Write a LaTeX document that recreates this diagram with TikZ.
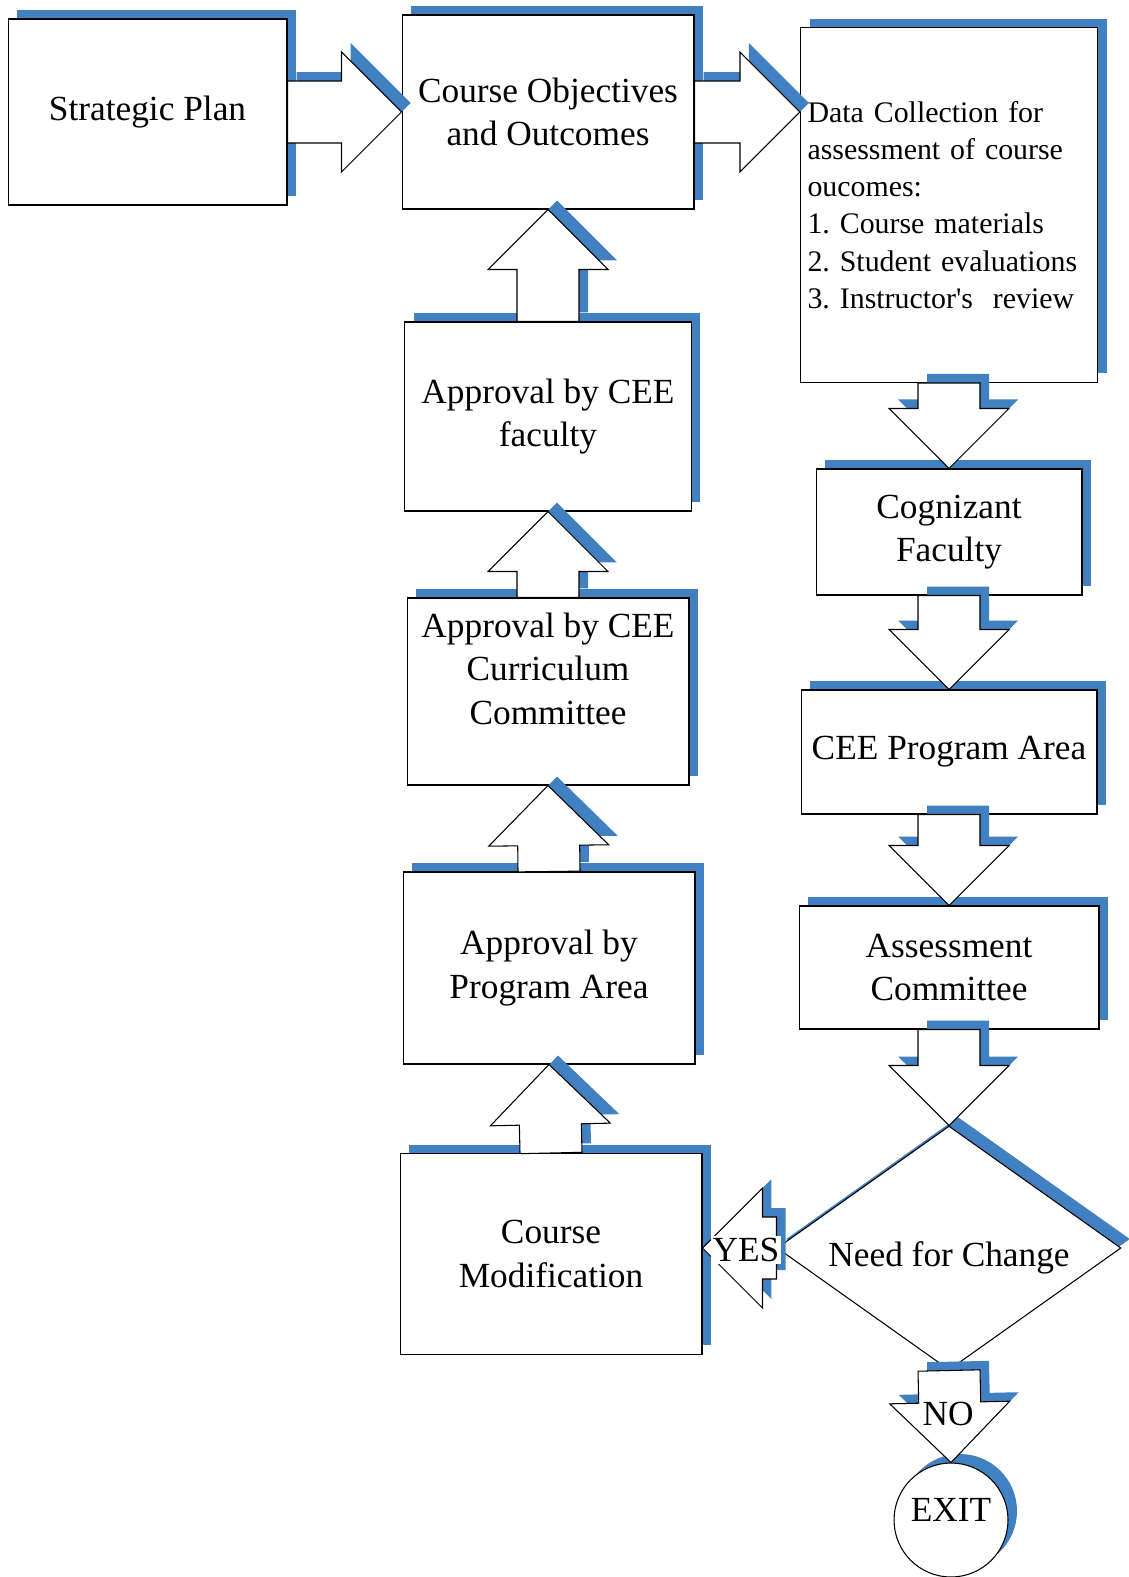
\documentclass[tikz,border=0pt]{standalone}
\usepackage{fontspec}
\setmainfont{Liberation Serif}
\usetikzlibrary{
  shapes.geometric,
  calc,
  shadows,
  positioning
}
\definecolor{shadowblue}{RGB}{65,128,193}
\frenchspacing

\begin{document}
\begin{tikzpicture}[
  x=0.02cm, y=-0.02cm,
  bluedrop/.style={general shadow={shadow xshift=0.18cm, shadow yshift=0.18cm, fill=shadowblue}},
  box/.style={rectangle, draw=black, line width=0.6pt, fill=white, bluedrop, align=center, inner sep=2pt, font=\fontsize{20.1}{24.8}\selectfont},
  decision/.style={diamond, draw=black, line width=0.6pt, fill=white, bluedrop, aspect=1.41, inner sep=0pt, minimum width=6.88cm, minimum height=4.88cm, font=\fontsize{20.1}{24.8}\selectfont},
  endpoint/.style={circle, draw=black, line width=0.6pt, fill=white, bluedrop, inner sep=0pt, minimum size=2.28cm, font=\fontsize{20.1}{24.8}\selectfont},
  answer/.style={fill=white, inner sep=1pt, font=\fontsize{20.1}{24.8}\selectfont},
  blockarrow/.style={draw=black, line width=0.6pt, fill=white, bluedrop, to path={
    let \p1=($(\tikztotarget)!1.2cm!(\tikztostart)$) in
    ($(\tikztostart)!0.62cm!90:(\tikztotarget)$) -- ($(\p1)!0.62cm!90:(\tikztotarget)$)
    -- ($(\p1)!1.2cm!90:(\tikztotarget)$) -- (\tikztotarget)
    -- ($(\p1)!1.2cm!-90:(\tikztotarget)$) -- ($(\p1)!0.62cm!-90:(\tikztotarget)$)
    -- ($(\tikztostart)!0.62cm!-90:(\tikztotarget)$) -- cycle}}
]
\useasboundingbox (0,0) rectangle (1128,1577);

% Top row nodes
\node[box, minimum width=5.58cm, minimum height=3.72cm] (strategic) at (147.5,112) {Strategic Plan};
\node[box, minimum width=5.84cm, minimum height=3.88cm] (objectives) at (548,112) {Course Objectives\\and Outcomes};
\node[box, minimum width=5.94cm, minimum height=7.1cm, text width=5.66cm, align=left, inner xsep=4pt, font=\fontsize{17}{21.2}\selectfont] (data) at (949,205) {Data Collection for\\assessment of course\\oucomes:\\1. Course materials\\2. Student evaluations\\3. Instructor\textquotesingle s\ \ review};

% Left column nodes
\node[box, minimum width=5.74cm, minimum height=3.78cm] (faculty) at (548,416.5) {Approval by CEE\\faculty};
\node[box, minimum width=5.64cm, minimum height=3.74cm, text depth=26pt] (curriculum) at (548,691.5) {Approval by CEE\\Curriculum\\Committee};
\node[box, minimum width=5.84cm, minimum height=3.84cm] (programarea) at (549,968) {Approval by\\Program Area};
\node[box, minimum width=6.04cm, minimum height=4.02cm] (modification) at (551,1254) {Course\\Modification};

% Right column nodes
\node[box, minimum width=5.32cm, minimum height=2.52cm] (cognizant) at (949,532) {Cognizant\\Faculty};
\node[box, minimum width=5.92cm, minimum height=2.48cm] (ceeprogram) at (949,752) {CEE Program Area};
\node[box, minimum width=6.0cm, minimum height=2.46cm] (assessment) at (949,967.5) {Assessment\\Committee};
\node[decision, text height=25pt] (change) at (949,1248) {Need for Change};
\node[endpoint, text depth=11pt] (exit) at (951,1520) {EXIT};

\coordinate (datain) at (objectives.east -| data.west);
\coordinate (yestip) at (change.west -| modification.east);

% Arrows along the top
\path[blockarrow] (strategic.east) to (objectives.west);
\path[blockarrow] (objectives.east) to (datain);

% Arrows up the left column
\path[blockarrow] (faculty.north) to (objectives.south);
\path[blockarrow] (curriculum.north) to (faculty.south);
\path[blockarrow] (programarea.north) to (curriculum.south);
\path[blockarrow] (modification.north) to (programarea.south);

% Arrows down the right column
\path[blockarrow] (data.south) to (cognizant.north);
\path[blockarrow] (cognizant.south) to (ceeprogram.north);
\path[blockarrow] (ceeprogram.south) to (assessment.north);
\path[blockarrow] (assessment.south) to (change.north);

% Decision outcomes
\path[blockarrow] (change.west) to (yestip);
\path[blockarrow] (change.south) to (exit.north);
\node[answer] (yes) at (746,1250) {YES};
\node[answer] (no) at (948,1414) {NO};

\end{tikzpicture}
\end{document}
